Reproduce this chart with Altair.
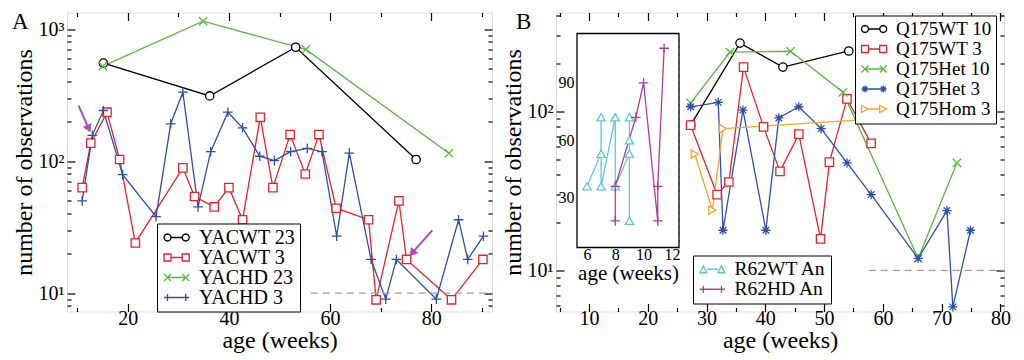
import math
import altair as alt
import pandas as pd

FONT = "Liberation Serif"

# ---------------- Panel A data ----------------
A_SERIES = ["YACWT 23", "YACWT 3", "YACHD 23", "YACHD 3"]
A_COLORS = ["#000000", "#e2232a", "#5bb83e", "#2e4fa5"]
A_MARKS = ["circle", "square", "x", "plus"]

yacwt23_wk = [15.2, 36.2, 53.2, 77.0]
yacwt23_n = [553, 312, 730, 103]
yacwt3_wk = [11.0, 12.7, 15.9, 18.4, 21.5, 30.9, 33.2, 37.1, 40.0, 42.7, 46.2, 48.7,
             52.1, 55.1, 57.8, 61.2, 67.6, 69.1, 73.6, 75.1, 84.0, 90.2]
yacwt3_n = [63, 137, 235, 103, 24, 89, 54, 45, 63, 36, 215, 63,
            159, 80, 159, 44, 36, 8.9, 50, 18, 8.9, 18]
yachd23_wk = [15.1, 34.9, 55.2, 83.5]
yachd23_n = [525, 1150, 702, 115]
yachd3_wk = [11.0, 13.0, 15.2, 19.0, 25.6, 28.5, 30.9, 33.9, 36.4, 39.8, 42.7, 46.1, 49.0,
             52.2, 55.5, 58.4, 61.3, 63.8, 68.1, 71.0, 73.1, 81.0, 85.4, 87.2, 90.3]
yachd3_n = [50, 157, 242, 79, 38, 192, 333, 45, 118, 235, 179, 109, 101,
            118, 125, 118, 27, 115, 18, 9.0, 18, 9.0, 36, 18, 27]

A_DASH = [56.2, 92.0, 10]          # start week, end week, level
ARROW_W0 = [10.3, 80.2]
ARROW_N0 = [264, 29.9]
ARROW_W1 = [12.3, 76.2]
ARROW_N1 = [176, 20.1]
ARROW_ANGLE = [156, 222]

A_X_DOMAIN = [8, 92]
A_Y_DOMAIN = [7.26, 1338]
A_X_MAJOR = [20, 40, 60, 80]
A_X_MINOR = [10, 30, 50, 70, 90]
A_Y_MAJOR = [10, 100, 1000]
A_Y_MINOR = [8, 9, 20, 30, 40, 50, 60, 70, 80, 90, 200, 300, 400, 500, 600, 700, 800, 900]

# ---------------- Panel B data ----------------
B_SERIES = ["Q175WT 10", "Q175WT 3", "Q175Het 10", "Q175Het 3", "Q175Hom 3"]
B_COLORS = ["#000000", "#e2232a", "#5bb83e", "#2e4fa5", "#f4a62a"]
B_MARKS = ["circle", "square", "x", "star", "tri_right"]

q175wt10_wk = [27.3, 35.7, 43.0, 54.2]
q175wt10_n = [82, 269, 190, 240]
q175wt3_wk = [27.3, 31.8, 33.8, 36.3, 39.7, 42.5, 45.7, 49.4, 50.9, 53.9, 58.0]
q175wt3_n = [82, 30, 36, 190, 80, 42, 72, 15.8, 48, 120, 63]
q175het10_wk = [27.3, 34.0, 44.3, 53.2, 66.0, 72.6]
q175het10_n = [113, 236, 239, 132, 11.9, 47.5]
q175het3_wk = [27.3, 32.0, 32.8, 36.2, 40.1, 42.3, 45.7, 49.5, 53.9, 58.0, 66.0, 70.9, 71.9, 74.9]
q175het3_n = [107, 114, 17.9, 102, 17.9, 91, 107, 78, 47.5, 30, 11.9, 23.8, 5.9, 17.9]
q175hom3_wk = [28.0, 31.0, 32.8, 67.8]
q175hom3_n = [54, 24, 78, 94]

B_DASH = [57.6, 80.6, 10]

B_X_DOMAIN = [4.4, 80.6]
B_Y_DOMAIN = [5.52, 419]
B_X_MAJOR = [10, 20, 30, 40, 50, 60, 70, 80]
B_X_MINOR = [5, 15, 25, 35, 45, 55, 65, 75]
B_Y_MAJOR = [10, 100]
B_Y_MINOR = [6, 7, 8, 9, 20, 30, 40, 50, 60, 70, 80, 90, 200, 300, 400]

# ---------------- Inset data ----------------
I_SERIES = ["R62WT An", "R62HD An"]
I_COLORS = ["#5cc8d8", "#b23c9c"]
I_MARKS = ["tri_up", "plus"]
r62wt_wk = [6, 7, 7, 7, 8, 8, 9, 9, 9, 9]
r62wt_n = [36, 53, 72, 36, 72, 36, 53, 60, 72, 18]
r62hd_wk = [8, 8, 9.45, 10, 11, 11, 11.45]
r62hd_n = [18, 36, 72, 90, 18, 36, 108]

I_X_DOMAIN = [5.3, 12.5]
I_Y_DOMAIN = [4.1, 115.7]
I_X_MAJOR = [6, 8, 10, 12]
I_X_MINOR = [7, 9, 11]
I_Y_MAJOR = [30, 60, 90]
I_Y_MINOR = [7.5, 11.25, 15, 18.75, 22.5, 26.25, 33.75, 37.5, 41.25, 45, 48.75, 52.5, 56.25,
             63.75, 67.5, 71.25, 75, 78.75, 82.5, 86.25, 93.75, 97.5, 101.25, 105, 108.75, 112.5]

# ---------------- layout constants (style) ----------------
AW, BW, H = 425, 448, 299
I_X_RANGE = [21, 123]
I_Y_RANGE = [235, 21]

P_X = "M -1 -1 L 1 1 M -1 1 L 1 -1"
P_PLUS = "M -1.15 0 L 1.15 0 M 0 -1.15 L 0 1.15"
P_STAR = "M -1.1 0 L 1.1 0 M 0 -1.1 L 0 1.1 M -0.78 -0.78 L 0.78 0.78 M -0.78 0.78 L 0.78 -0.78"
MARK_SHAPE = {"circle": "circle", "square": "square", "x": P_X, "plus": P_PLUS,
              "star": P_STAR, "tri_right": "triangle-right", "tri_up": "triangle-up"}


def f(v):
    return f"{v:.3f}"


def leg_path(kind):
    c1, c2, h = -0.5, 2.1, 0.5

    def mk(c):
        if kind == "circle":
            pts = [(c + h * math.cos(2 * math.pi * k / 16), h * math.sin(2 * math.pi * k / 16)) for k in range(16)]
            return "M " + " L ".join(f"{f(a)} {f(b)}" for a, b in pts) + " Z"
        if kind == "square":
            return f"M {f(c-h)} {f(-h)} L {f(c+h)} {f(-h)} L {f(c+h)} {f(h)} L {f(c-h)} {f(h)} Z"
        if kind == "x":
            return f"M {f(c-h)} {f(-h)} L {f(c+h)} {f(h)} M {f(c-h)} {f(h)} L {f(c+h)} {f(-h)}"
        if kind == "plus":
            return f"M {f(c-h)} 0 L {f(c+h)} 0 M {f(c)} {f(-h)} L {f(c)} {f(h)}"
        if kind == "star":
            d = 0.7 * h
            return (f"M {f(c-h)} 0 L {f(c+h)} 0 M {f(c)} {f(-h)} L {f(c)} {f(h)} "
                    f"M {f(c-d)} {f(-d)} L {f(c+d)} {f(d)} M {f(c-d)} {f(d)} L {f(c+d)} {f(-d)}")
        if kind == "tri_right":
            return f"M {f(c-h)} {f(-h)} L {f(c+h)} 0 L {f(c-h)} {f(h)} Z"
        return f"M {f(c)} {f(-h)} L {f(c+h)} {f(h)} L {f(c-h)} {f(h)} Z"

    if kind in ("x", "plus", "star"):
        line = f"M {f(c1)} 0 L {f(c2)} 0"
    else:
        line = f"M {f(c1+h)} 0 L {f(c2-h)} 0"
    return line + " " + mk(c1) + " " + mk(c2)


def series_df(names, wks, ns):
    rows = []
    for s, w, n in zip(names, wks, ns):
        for i, (a, b) in enumerate(zip(w, n)):
            rows.append({"series": s, "wk": a, "n": b, "ord": i})
    return pd.DataFrame(rows)


def core_layers(df, xs, ys, series, colors, marks, size):
    color = alt.Color("series:N", scale=alt.Scale(domain=series, range=colors), legend=None)
    x = alt.X("wk:Q", scale=xs, axis=None)
    y = alt.Y("n:Q", scale=ys, axis=None)
    lines = alt.Chart(df).mark_line(strokeWidth=1.3).encode(x=x, y=y, color=color, order="ord:Q")
    pts = alt.Chart(df).mark_point(filled=False, fill="white", strokeWidth=1.3, size=size, opacity=1).encode(
        x=x, y=y, color=color,
        shape=alt.Shape("series:N", scale=alt.Scale(domain=series, range=[MARK_SHAPE[m] for m in marks]),
                        legend=None))
    return lines, pts


def legend_layer(series, colors, marks, lx, ly, fs=21, rp=-4):
    lg = alt.Legend(orient="none", legendX=lx, legendY=ly, title=None, symbolSize=196,
                    symbolStrokeWidth=1.3, symbolOpacity=1,
                    labelFont=FONT, labelFontSize=fs, labelColor="black", labelOffset=18,
                    strokeColor="black", fillColor="white", padding=4, rowPadding=rp)
    df = pd.DataFrame({"series": series})
    return alt.Chart(df).mark_point(filled=False, opacity=0, strokeWidth=1.3).encode(
        color=alt.Color("series:N", scale=alt.Scale(domain=series, range=colors), legend=lg),
        shape=alt.Shape("series:N", scale=alt.Scale(domain=series, range=[leg_path(m) for m in marks]),
                        legend=lg))


def axis_layers(df, xs, ys, xmaj, xmin, ymaj, ymin, ylab, xtitle, ytitle,
                lab, ttl, tmaj, tmin, ins=(0, 0, 0, 0), xtp=2, ytp=2, xlp=0, ylp=3):
    b, l, t, r = ins
    sty = dict(domain=False, grid=False, tickColor="black", tickWidth=1.2, labelFont=FONT,
               labelFontSize=lab, labelColor="black", labelFlush=False, labelOverlap=False,
               titleFont=FONT, titleFontSize=ttl, titleFontWeight="normal",
               titleColor="black")

    def ax(orient, vals, size, extra, **kw):
        return alt.Axis(orient=orient, values=vals, tickSize=size, offset=-(extra + size), **sty, **kw)

    base = alt.Chart(df).mark_point(opacity=0)
    yextra = {"labelExpr": ylab} if ylab else {}
    l1 = base.encode(
        x=alt.X("wk:Q", scale=xs, axis=ax("bottom", xmaj, tmaj, b, title=xtitle, titlePadding=xtp,
                                          labelPadding=xlp)),
        y=alt.Y("n:Q", scale=ys, axis=ax("left", ymaj, tmaj, l, title=ytitle, titlePadding=ytp,
                                         labelPadding=ylp, **yextra)))
    l2 = base.encode(
        x=alt.X("wk:Q", scale=xs, axis=ax("bottom", xmin, tmin, b, labels=False, title=None)),
        y=alt.Y("n:Q", scale=ys, axis=ax("left", ymin, tmin, l, labels=False, title=None)))
    l3 = base.encode(
        x=alt.X("wk:Q", scale=xs, axis=ax("top", xmaj, tmaj, t, labels=False, title=None)),
        y=alt.Y("n:Q", scale=ys, axis=ax("right", ymaj, tmaj, r, labels=False, title=None)))
    l4 = base.encode(
        x=alt.X("wk:Q", scale=xs, axis=ax("top", xmin, tmin, t, labels=False, title=None)),
        y=alt.Y("n:Q", scale=ys, axis=ax("right", ymin, tmin, r, labels=False, title=None)))
    return [l1, l2, l3, l4]


def letter(txt, dx, dy):
    return alt.Chart(pd.DataFrame({"t": [txt]})).mark_text(
        font=FONT, fontSize=23, align="left", baseline="alphabetic", color="black").encode(
        x=alt.value(dx), y=alt.value(dy), text="t:N")


def dash_layer(vals, xs, ys):
    d = pd.DataFrame({"x1": [vals[0]], "x2": [vals[1]], "y": [vals[2]]})
    return alt.Chart(d).mark_rule(strokeDash=[7, 5], color="#c98f8f", strokeWidth=1.3).encode(
        x=alt.X("x1:Q", scale=xs, axis=None), x2="x2:Q", y=alt.Y("y:Q", scale=ys, axis=None))


LOG_LABEL = "datum.value == 1000 ? '10\u00b3' : datum.value == 100 ? '10\u00b2' : '10\u00b9'"

# ---------------- Panel A ----------------
xA = alt.Scale(domain=A_X_DOMAIN, nice=False, zero=False)
yA = alt.Scale(type="log", domain=A_Y_DOMAIN, nice=False)
dfA = series_df(A_SERIES, [yacwt23_wk, yacwt3_wk, yachd23_wk, yachd3_wk],
                [yacwt23_n, yacwt3_n, yachd23_n, yachd3_n])
linesA, ptsA = core_layers(dfA, xA, yA, A_SERIES, A_COLORS, A_MARKS, 70)

arr = pd.DataFrame({"w0": ARROW_W0, "n0": ARROW_N0, "w1": ARROW_W1, "n1": ARROW_N1, "ang": ARROW_ANGLE})
shaft = alt.Chart(arr).mark_rule(color="#b04cb4", strokeWidth=2).encode(
    x=alt.X("w0:Q", scale=xA, axis=None), y=alt.Y("n0:Q", scale=yA, axis=None), x2="w1:Q", y2="n1:Q")
head = alt.Chart(arr).mark_point(shape="triangle-up", filled=True, size=90, opacity=1, color="#b04cb4").encode(
    x=alt.X("w1:Q", scale=xA, axis=None), y=alt.Y("n1:Q", scale=yA, axis=None),
    angle=alt.Angle("ang:Q", scale=None))

axesA = axis_layers(dfA, xA, yA, A_X_MAJOR, A_X_MINOR, A_Y_MAJOR, A_Y_MINOR, LOG_LABEL,
                    "age (weeks)", "number of observations", 20, 24, 8, 4, xtp=0, ytp=2, xlp=-3)

panelA = alt.layer(
    linesA, ptsA, dash_layer(A_DASH, xA, yA), shaft, head,
    legend_layer(A_SERIES, A_COLORS, A_MARKS, 90, 211, 20, -0.5),
    letter("A", -55, 16), *axesA
).resolve_scale(shape="independent", color="independent").resolve_axis(
    x="independent", y="independent").properties(width=AW, height=H)

# ---------------- Panel B ----------------
xB = alt.Scale(domain=B_X_DOMAIN, nice=False, zero=False)
yB = alt.Scale(type="log", domain=B_Y_DOMAIN, nice=False)
dfB = series_df(B_SERIES, [q175wt10_wk, q175wt3_wk, q175het10_wk, q175het3_wk, q175hom3_wk],
                [q175wt10_n, q175wt3_n, q175het10_n, q175het3_n, q175hom3_n])
linesB, ptsB = core_layers(dfB, xB, yB, B_SERIES, B_COLORS, B_MARKS, 70)
axesB = axis_layers(dfB, xB, yB, B_X_MAJOR, B_X_MINOR, B_Y_MAJOR, B_Y_MINOR, LOG_LABEL,
                    "age (weeks)", "number of observations", 20, 24, 8, 4, xtp=0, ytp=2, xlp=-3)
mainB = alt.layer(
    linesB, ptsB, dash_layer(B_DASH, xB, yB),
    legend_layer(B_SERIES, B_COLORS, B_MARKS, 299, 3, 19, -3),
    *axesB
).resolve_scale(shape="independent", color="independent").resolve_axis(
    x="independent", y="independent")

xI = alt.Scale(domain=I_X_DOMAIN, range=I_X_RANGE, nice=False, zero=False)
yI = alt.Scale(domain=I_Y_DOMAIN, range=I_Y_RANGE, nice=False, zero=False)
dfI = series_df(I_SERIES, [r62wt_wk, r62hd_wk], [r62wt_n, r62hd_n])
frame = alt.Chart(pd.DataFrame({"x1": [I_X_DOMAIN[0]], "x2": [I_X_DOMAIN[1]],
                                "y1": [I_Y_DOMAIN[0]], "y2": [I_Y_DOMAIN[1]]})).mark_rect(
    fill="white", stroke="black", strokeWidth=1.3).encode(
    x=alt.X("x1:Q", scale=xI, axis=None), x2="x2:Q", y=alt.Y("y1:Q", scale=yI, axis=None), y2="y2:Q")
linesI, ptsI = core_layers(dfI, xI, yI, I_SERIES, I_COLORS, I_MARKS, 70)
ins = (H - I_Y_RANGE[0], I_X_RANGE[0], I_Y_RANGE[1], BW - I_X_RANGE[1])
axesI = axis_layers(dfI, xI, yI, I_X_MAJOR, I_X_MINOR, I_Y_MAJOR, I_Y_MINOR, None,
                    "age (weeks)", None, 16, 21, 6, 3, ins=ins, xtp=0, ytp=2, xlp=-1, ylp=3)
insetB = alt.layer(
    frame, linesI, ptsI,
    legend_layer(I_SERIES, I_COLORS, I_MARKS, 137, 243, 19.5, -1),
    *axesI
).resolve_scale(shape="independent", color="independent").resolve_axis(
    x="independent", y="independent")

panelB = alt.layer(
    mainB, insetB, letter("B", -40, 16)
).resolve_scale(x="independent", y="independent", color="independent", shape="independent"
                ).properties(width=BW, height=H)

chart = alt.hconcat(panelA, panelB, spacing=6).properties(
    padding={"left": 11, "top": 9.5, "right": 4, "bottom": 0}
).configure_view(stroke="black", strokeWidth=1.3).configure(
    background="white", font=FONT
).configure_axis(labelFont=FONT, titleFont=FONT).configure_legend(
    labelFont=FONT, titleFont=FONT)

chart.save("out.html", embed_options={"renderer": "svg", "actions": False})
